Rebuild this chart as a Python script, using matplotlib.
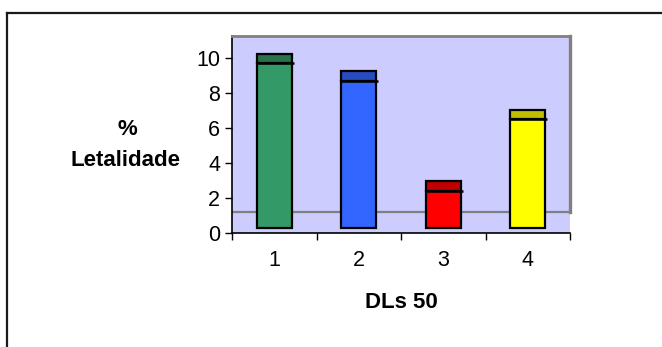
import matplotlib
matplotlib.use("Agg")
import matplotlib.pyplot as plt
from matplotlib.lines import Line2D

# Data
categories = ["1", "2", "3", "4"]
letalidade = [9.4, 8.4, 2.1, 6.2]
front_colors = ["#339966", "#3366FF", "#FF0000", "#FFFF00"]
top_colors = ["#26734C", "#264CBF", "#BF0000", "#BFBF00"]
y_ticks = [0, 2, 4, 6, 8, 10]

plt.rcParams["font.family"] = ["Liberation Sans", "DejaVu Sans"]

W, H = 662, 347
fig = plt.figure(figsize=(W / 100, H / 100), dpi=100)
fig.patch.set_facecolor("white")

def fx(px):
    return px / W

def fy(py):
    return 1 - py / H

# outer chart frame (top and left edges)
fig.add_artist(Line2D([fx(7), fx(7)], [fy(12.5), 0], transform=fig.transFigure,
                      color="#1a1a1a", lw=1.6))
fig.add_artist(Line2D([fx(7), 1], [fy(12.5), fy(12.5)], transform=fig.transFigure,
                      color="#1a1a1a", lw=1.6))

x0, x1, y_top, y_bot = 232, 570, 36, 233
ax = fig.add_axes([fx(x0), fy(y_bot), fx(x1 - x0), (y_bot - y_top) / H])
ax.set_facecolor("#CCCCFF")

ymax = 11.24
floor_back = 1.18      # depth offset of the back wall floor
front_off = 0.29       # depth offset of the column front faces
back_off = 0.84        # depth offset of the column back faces
ax.set_xlim(0.5, 4.5)
ax.set_ylim(0, ymax)

# back wall outline
ax.plot([0.5, 4.5], [floor_back, floor_back], color="#808080", lw=1.6, zorder=1)
ax.plot([4.5, 4.5], [floor_back, ymax], color="#808080", lw=2.4, zorder=1, clip_on=False)

pos = [1, 2, 3, 4]
bw = 0.41
for x, v, fc, tc in zip(pos, letalidade, front_colors, top_colors):
    front = v + front_off
    back = v + back_off
    ax.bar(x, front - front_off, bottom=front_off, width=bw, color=fc,
           edgecolor="black", linewidth=1.6, zorder=3)
    ax.bar(x, back - front, bottom=front, width=bw, color=tc,
           edgecolor="black", linewidth=1.6, zorder=3)
    ax.plot([x - bw / 2, x + bw / 2 + 0.025], [front, front], color="black",
            lw=1.8, zorder=4, solid_capstyle="butt")

ax.spines["right"].set_visible(False)
ax.spines["top"].set_color("#808080")
ax.spines["top"].set_linewidth(2.0)
ax.spines["left"].set_color("black")
ax.spines["left"].set_linewidth(1.2)
ax.spines["bottom"].set_color("black")
ax.spines["bottom"].set_linewidth(1.2)

ax.set_yticks(y_ticks)
ax.set_yticklabels([str(t) for t in y_ticks])
ax.set_xticks([0.5, 1.5, 2.5, 3.5, 4.5])
ax.set_xticklabels([])
ax.tick_params(axis="y", direction="out", length=5, width=1, pad=3.5,
               labelsize=15.5, colors="black")
ax.tick_params(axis="x", direction="out", length=5, width=1)

# category labels centred under each column
label_y = -(266 - y_bot) / (y_bot - y_top)
for x, c in zip(pos, categories):
    ax.text(x, label_y, c, transform=ax.get_xaxis_transform(), ha="center",
            va="baseline", fontsize=15.5)

fig.text(fx(127), fy(135), "%", ha="center", va="baseline",
         fontsize=16, fontweight="bold")
fig.text(fx(126), fy(166), "Letalidade", ha="center", va="baseline",
         fontsize=16, fontweight="bold")
fig.text(fx(401.5), fy(308), "DLs 50", ha="center", va="baseline",
         fontsize=16, fontweight="bold")

fig.savefig("out.png", dpi=100)
